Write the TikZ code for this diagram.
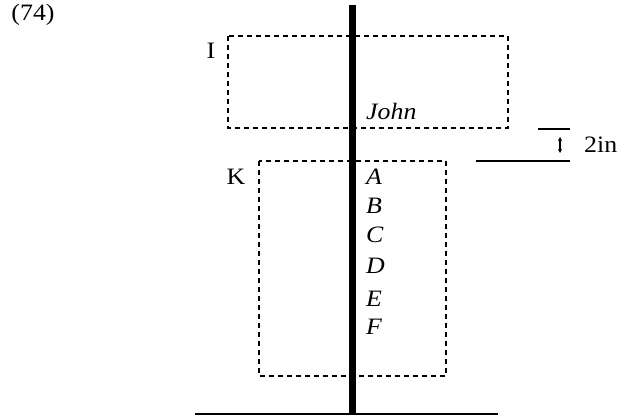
\documentclass[tikz,border=0pt]{standalone}
\usepackage{fontspec}
\setmainfont{Liberation Serif}[FakeStretch=1.1]
\usetikzlibrary{arrows.meta}
\tikzset{
  lbl/.style={inner sep=0pt, font=\fontsize{23.5}{27}\selectfont},
  itl/.style={lbl, font=\fontsize{23.5}{27}\selectfont\itshape, anchor=west},
  dbox/.style={draw, line width=1.4pt, dash pattern=on 5pt off 4pt},
  stem/.style={line width=7pt},
  floor/.style={line width=2.8pt},
  meas/.style={line width=1.5pt}
}
\begin{document}
\begin{tikzpicture}[x=1pt,y=-1pt]
\useasboundingbox (0,0) rectangle (621,420);
% boxes
\draw[dbox] (228,36) rectangle (508,128);
\draw[dbox] (259,161) rectangle (446,376);
% stem and floor
\coordinate (top) at (352,5);
\coordinate (bot) at (352,414);
\coordinate (fl) at (195,414);
\coordinate (fr) at (498,414);
\draw[floor] (fl) -- (fr);
\draw[stem] (top) -- (bot);
% labels
\node[lbl] (num) at (33,15) {(74)};
\node[lbl] (I) at (211,51) {I};
\node[lbl] (K) at (236,177) {K};
\node[itl] (john) at (366,111) {John};
\node[itl] (A) at (366,177) {A};
\node[itl] (B) at (366,206) {B};
\node[itl] (C) at (366,235) {C};
\node[itl] (D) at (366,266) {D};
\node[itl] (E) at (366,299) {E};
\node[itl] (F) at (366,327) {F};
% measure
\coordinate (m1a) at (538,129);
\coordinate (m1b) at (570,129);
\coordinate (m2a) at (476,161);
\coordinate (m2b) at (570,161);
\draw[meas] (m1a) -- (m1b);
\draw[meas] (m2a) -- (m2b);
\coordinate (ua) at (560,137);
\coordinate (ub) at (560,153);
\draw[line width=1.1pt, {Stealth[length=4pt,width=4pt]}-{Stealth[length=4pt,width=4pt]}] (ua) -- (ub);
\node[lbl, anchor=west] (in) at (584,145) {2in};
\end{tikzpicture}
\end{document}
